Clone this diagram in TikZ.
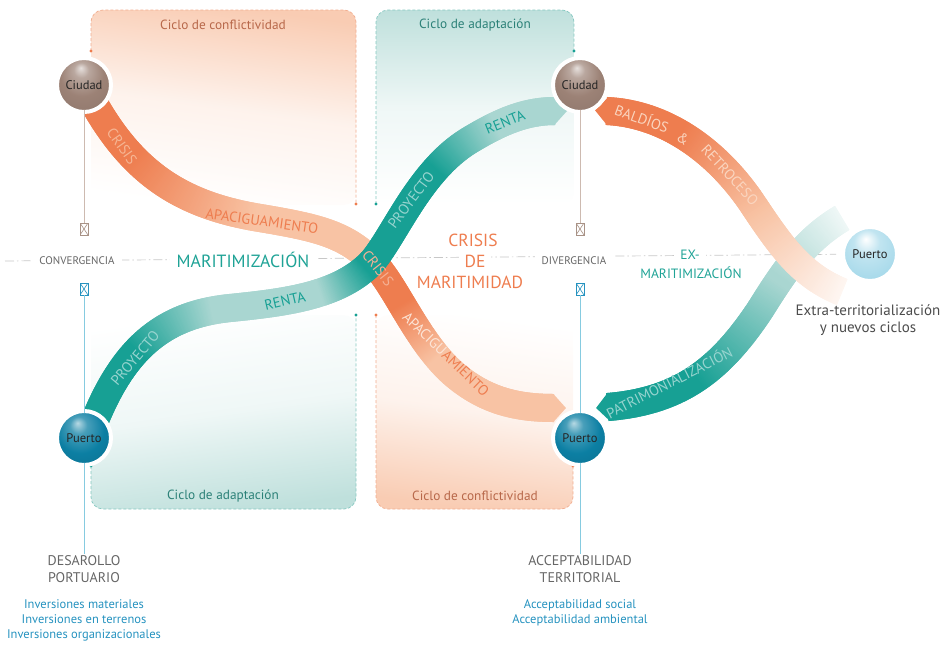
\documentclass[tikz,border=0pt]{standalone}
\usepackage{fontspec}
\setmainfont{PT Sans}
\usetikzlibrary{decorations.markings}
\definecolor{orD}{HTML}{EE7D4F}
\definecolor{orL}{HTML}{F8C3A4}
\definecolor{orT}{HTML}{B8684A}
\definecolor{orBox}{HTML}{F9CCB3}
\definecolor{orDash}{HTML}{F2AE90}
\definecolor{teD}{HTML}{17A094}
\definecolor{teL}{HTML}{A9D6D1}
\definecolor{teT}{HTML}{2C8178}
\definecolor{teBox}{HTML}{BFE0DC}
\definecolor{teDash}{HTML}{86C8C1}
\definecolor{teTxt}{HTML}{1FA396}
\definecolor{brS}{HTML}{9C8276}
\definecolor{puD}{HTML}{0C7FA3}
\definecolor{puL}{HTML}{A6D9EA}
\definecolor{grT}{HTML}{666666}
\definecolor{blT}{HTML}{2592BF}
\definecolor{brLine}{HTML}{CDBAB0}
\definecolor{blLine}{HTML}{86CBE0}
\definecolor{brBox}{HTML}{A89286}
\colorlet{brHi}{brS!25!white}
\colorlet{brMid}{brS!70!white}
\colorlet{brEdge}{brS!85!black}
\colorlet{puHi}{puD!30!white}
\colorlet{puMid}{puD!75!white}
\colorlet{puEdge}{puD!80!black}
\colorlet{plMid}{puL!70!white}
\colorlet{plEdge}{puL!92!black}
\pgfdeclareradialshading{sphCiudad}{\pgfpoint{-3bp}{16bp}}{color(0bp)=(brHi); color(7bp)=(brMid); color(20bp)=(brS); color(50bp)=(brEdge)}
\pgfdeclareradialshading{sphPuerto}{\pgfpoint{-6bp}{14bp}}{color(0bp)=(puHi); color(8bp)=(puMid); color(22bp)=(puD); color(50bp)=(puEdge)}
\pgfdeclareradialshading{sphPuertoL}{\pgfpoint{-4bp}{14bp}}{color(0bp)=(white); color(12bp)=(plMid); color(30bp)=(puL); color(50bp)=(plEdge)}
\tikzset{
  band/.style n args={7}{decorate, decoration={markings,
    mark=between positions 0 and 1 step 0.7pt with {%
      \pgfmathsetmacro\bandf{\pgfkeysvalueof{/pgf/decoration/mark info/distance from start}/\pgfdecoratedpathlength}%
      \pgfmathtruncatemacro\bandpa{100*min(1,max(0,(\bandf-#4)/(#5-#4)))}%
      \pgfmathtruncatemacro\bandpb{100*min(1,max(0,(\bandf-#6)/(#7-#6)))}%
      \colorlet{bandtmp}{#2!\bandpa!#1}%
      \fill[#3!\bandpb!bandtmp] (-0.8pt,-14pt) rectangle (0.8pt,14pt);%
    }}},
  tipend/.style={decorate, decoration={markings, mark=at position 0.9999 with {\fill[#1] (-0.6pt,-14pt) -- (12pt,0pt) -- (-0.6pt,14pt) -- cycle;}}},
  tipstart/.style={decorate, decoration={markings, mark=at position 0.0001 with {\fill[#1] (0.6pt,-14pt) -- (-12pt,0pt) -- (0.6pt,14pt) -- cycle;}}},
  sphere/.style={circle, minimum size=54pt, inner sep=0pt, outer sep=0pt, shade, shading=#1, draw=white, line width=4pt, font=\fontsize{12.5}{13}\selectfont, text=black!85},
  xbox/.style={draw=#1, fill=white, line width=0.8pt, minimum width=8pt, minimum height=12pt, inner sep=0pt,
     path picture={\draw[#1, line width=0.6pt] (path picture bounding box.north west) -- (path picture bounding box.south east) (path picture bounding box.north east) -- (path picture bounding box.south west);}},
  bt/.style={font=\fontsize{14.5}{15}\selectfont, inner sep=0pt},
  dashO/.style={draw=orDash, line width=0.7pt, dash pattern=on 3pt off 2pt, rounded corners=12pt},
  dashT/.style={draw=teDash, line width=0.7pt, dash pattern=on 3pt off 2pt, rounded corners=12pt},
  hline/.style={draw=black!22, line width=0.7pt, dash pattern=on 9pt off 3pt on 1.5pt off 3pt},
  title/.style={font=\fontsize{13.3}{15}\selectfont, inner sep=0pt},
}
\begin{document}
\begin{tikzpicture}[x=1pt,y=-1pt]
\useasboundingbox (0,0) rectangle (946,645);
% cycle boxes fills
\shade[rounded corners=12pt, top color=orBox, bottom color=white, middle color=orBox!25!white, shading angle=-8] (91,205) -- (91,10) -- (356,10) -- (356,205) -- cycle;
\shade[rounded corners=12pt, top color=teBox, bottom color=white, middle color=teBox!25!white] (376,205) -- (376,10) -- (574,10) -- (574,205) -- cycle;
\shade[rounded corners=12pt, top color=white, bottom color=teBox, middle color=teBox!25!white, shading angle=8] (91,315) -- (91,509) -- (356,509) -- (356,315) -- cycle;
\shade[rounded corners=12pt, top color=white, bottom color=orBox, middle color=orBox!25!white, shading angle=-8] (376,315) -- (376,509) -- (573,509) -- (573,315) -- cycle;
% outlines
\draw[dashO] (91,51) -- (91,10) -- (356,10) -- (356,204);
\draw[dashT] (376,204) -- (376,10) -- (574,10) -- (574,51);
\draw[dashT] (91,466) -- (91,509) -- (356,509) -- (356,315);
\draw[dashO] (376,315) -- (376,509) -- (573,509) -- (573,466);
\fill[orD] (91,51) circle (1.7pt) (356,204) circle (1.7pt) (376,315) circle (1.7pt) (573,466) circle (1.7pt);
\fill[teD] (574,51) circle (1.7pt) (376,204) circle (1.7pt) (91,466) circle (1.7pt) (356,315) circle (1.7pt);
\node[title, text=orT] (t1) at (223,25) {Ciclo de conflictividad};
\node[title, text=teT] (t2) at (475,25) {Ciclo de adaptación};
\node[title, text=teT] (t3) at (223,496) {Ciclo de adaptación};
\node[title, text=orT] (t4) at (475,496) {Ciclo de conflictividad};
% horizontal axis
\coordinate (hl0) at (5,261);
\node[sphere=sphPuertoL] (pX) at (870,254) {Puerto};
\draw[hline, shorten >=7pt] (hl0) -- (pX);
\node[fill=white, inner xsep=7pt, inner ysep=2pt, font=\fontsize{11}{12}\selectfont, text=grT] (conv) at (77,261) {CONVERGENCIA};
\node[fill=white, inner xsep=7pt, inner ysep=2pt, font=\fontsize{17.7}{19}\selectfont, text=teTxt] (mar) at (243,260) {MARITIMIZACIÓN};
\node[inner sep=0pt, font=\fontsize{17.5}{19}\selectfont, text=orD] (cr1) at (473,240) {CRISIS};
\node[fill=white, inner xsep=6pt, inner ysep=1pt, font=\fontsize{17.5}{19}\selectfont, text=orD] (cr2) at (475,261) {DE};
\node[inner sep=0pt, font=\fontsize{17.5}{19}\selectfont, text=orD] (cr3) at (470,282) {MARITIMIDAD};
\node[fill=white, inner xsep=7pt, inner ysep=2pt, font=\fontsize{11}{12}\selectfont, text=grT] (div) at (574,261) {DIVERGENCIA};
\node[fill=white, inner xsep=6pt, inner ysep=1pt, font=\fontsize{13.5}{14}\selectfont, text=teTxt] (ex1) at (690,255) {EX-};
\node[inner sep=0pt, font=\fontsize{13.5}{14}\selectfont, text=teTxt] (ex2) at (691,273) {MARITIMIZACIÓN};
% bands
\path[postaction={band={orD}{orL}{orL}{0.2}{0.6}{2}{3}}] (92,100) .. controls (132,172) and (180,205) .. (260,218) .. controls (320,228) and (350,235) .. (378,268);
\path[postaction={band={orD}{orL}{orL}{0.18}{0.45}{2}{3}}, postaction={tipend=orL}] (378,268) .. controls (400,295) and (420,345) .. (455,375) .. controls (485,400) and (515,408) .. (554,408);
\path[postaction={band={teD}{teL}{teD}{0.25}{0.5}{0.82}{0.97}}] (93,425) .. controls (122,352) and (160,315) .. (230,308) .. controls (290,302) and (340,295) .. (372,262);
\path[postaction={band={teD}{teL}{teL}{0.45}{0.75}{2}{3}}, postaction={tipend=teL}] (372,262) .. controls (395,235) and (420,170) .. (470,140) .. controls (500,122) and (525,111) .. (555,111);
\path[postaction={band={teD}{teL}{white}{0.3}{0.7}{0.72}{1.06}}, postaction={tipstart=teD}] (608,407) .. controls (680,401) and (720,370) .. (760,310) .. controls (785,270) and (805,240) .. (842,218);
\path[postaction={band={orD}{orL}{white}{0.25}{0.62}{0.62}{1.06}}, postaction={tipstart=orD}] (607,111) .. controls (665,114) and (715,150) .. (750,200) .. controls (780,245) and (800,275) .. (842,292);
% band labels
\node[bt, text=orL!80!orD, rotate=-55] (b1) at (122,146) {CRISIS};
\node[bt, text=orD, rotate=-8] (b2) at (262,221) {APACIGUAMIENTO};
\node[bt, text=teD!45!white, rotate=50] (b3) at (135,358) {PROYECTO};
\node[bt, text=teD, rotate=13] (b4) at (285,301) {RENTA};
\node[bt, text=orD!60!white, rotate=-52] (b5) at (378,268) {CRISIS};
\node[bt, text=teD!45!white, rotate=53] (b6) at (411,200) {PROYECTO};
\node[bt, text=teD, rotate=22] (b7) at (505,122) {RENTA};
\node[bt, rotate=-44] (b8) at (446,354) {\textcolor{orL!45!white}{APACIGU}\textcolor{orD}{AMIENTO}};
\node[bt, text=orL!70!white, rotate=-20] (b9) at (642,118) {BALDÍOS};
\node[bt, text=orL!70!white, rotate=-35] (b10) at (683,139) {\&};
\node[bt, text=orL!70!white, rotate=-47] (b11) at (730,175) {RETROCESO};
\node[bt, text=teD!45!white, rotate=27] (b12) at (669,382) {PATRIMONIALIZACIÓN};
% spheres
\node[sphere=sphCiudad] (cL) at (84,85) {Ciudad};
\node[sphere=sphCiudad] (cR) at (580,85) {Ciudad};
\node[sphere=sphPuerto] (pL) at (84,438) {Puerto};
\node[sphere=sphPuerto] (pR) at (580,438) {Puerto};
% markers and vertical lines
\node[xbox=brBox] (xCL) at (84,229) {};
\node[xbox=blT] (xPL) at (84,289) {};
\node[xbox=brBox] (xCR) at (580,229) {};
\node[xbox=blT] (xPR) at (580,289) {};
\node[anchor=north, align=center, inner sep=1pt, font=\fontsize{14}{17}\selectfont, text=grT] (desL) at (84,554) {DESAROLLO\\PORTUARIO};
\node[anchor=north, align=center, inner sep=0pt, font=\fontsize{12.5}{15}\selectfont, text=blT] (invL) at (84,599) {Inversiones materiales\\Inversiones en terrenos\\Inversiones organizacionales};
\node[anchor=north, align=center, inner sep=1pt, font=\fontsize{14}{17}\selectfont, text=grT] (acR) at (580,554) {ACCEPTABILIDAD\\TERRITORIAL};
\node[anchor=north, align=center, inner sep=0pt, font=\fontsize{12.5}{15}\selectfont, text=blT] (acc) at (580,599) {Acceptabilidad social\\Acceptabilidad ambiental};
\draw[brLine, line width=0.9pt, shorten <=-2pt] (cL) -- (xCL);
\draw[brLine, line width=0.9pt, shorten <=-2pt] (cR) -- (xCR);
\draw[blLine, line width=0.9pt, shorten >=-2pt] (xPL) -- (pL);
\draw[blLine, line width=0.9pt, shorten >=-2pt] (xPR) -- (pR);
\draw[blLine, line width=0.9pt, shorten <=-2pt] (pL) -- (desL);
\draw[blLine, line width=0.9pt, shorten <=-2pt] (pR) -- (acR);
\node[align=center, inner sep=0pt, font=\fontsize{15}{16.5}\selectfont, text=black!70] (ext) at (868,320) {Extra-territorialización\\y nuevos ciclos};
\end{tikzpicture}
\end{document}
